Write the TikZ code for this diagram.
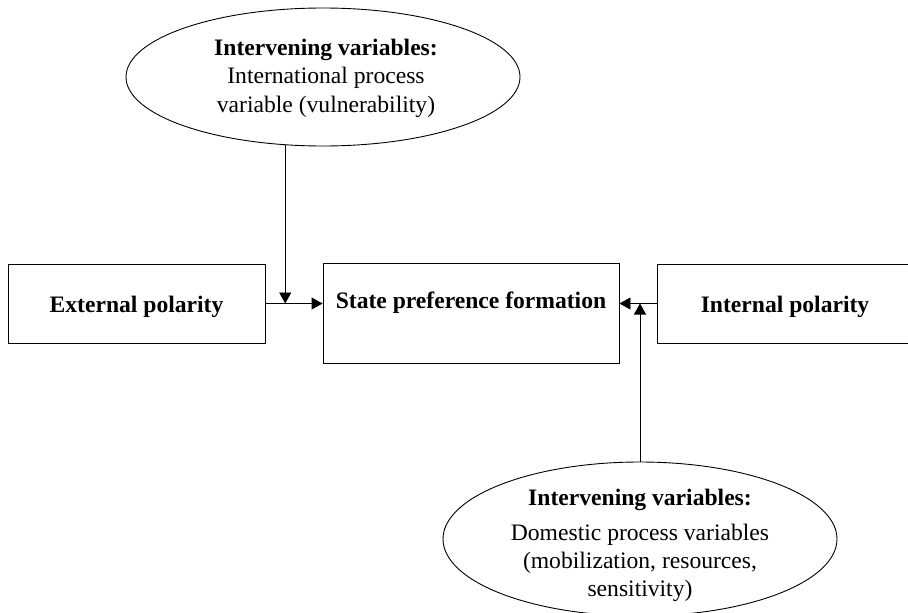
\documentclass[tikz,border=0pt]{standalone}
\usepackage{fontspec}
\setmainfont{Liberation Serif}
\usetikzlibrary{shapes.geometric,arrows.meta}
\tikzset{
  box/.style={draw, line width=0.9pt, rectangle, inner sep=0pt},
  oval/.style={draw, line width=0.9pt, ellipse, inner sep=0pt},
  txt/.style={anchor=base, inner sep=0pt, font=\fontsize{23.6}{28.5}\selectfont},
  link/.style={line width=0.9pt, -{Triangle[length=11pt,width=12pt]}}
}
\begin{document}
\begin{tikzpicture}[x=1pt,y=1pt]
\useasboundingbox (0,0) rectangle (908,-613);
\clip (0,0) rectangle (908,-613);
\fill[white] (0,0) rectangle (908,-613);
% boxes
\node[box, minimum width=257pt, minimum height=79pt] (ext) at (136.5,-303.5) {};
\node[box, minimum width=296pt, minimum height=100pt] (mid) at (471,-313) {};
\node[box, minimum width=256pt, minimum height=79pt] (int) at (785,-303.5) {};
\node[txt] (extT) at (136.5,-312) {\textbf{External polarity}};
\node[txt] (midT) at (471,-308) {\textbf{State preference formation}};
\node[txt] (intT) at (785,-312) {\textbf{Internal polarity}};
% ellipses
\node[oval, minimum width=394pt, minimum height=138pt] (iv1) at (323,-77) {};
\node[txt] (iv1a) at (326,-55) {\textbf{Intervening variables:}};
\node[txt] (iv1b) at (326,-83.5) {International process};
\node[txt] (iv1c) at (326,-112) {variable (vulnerability)};
\node[oval, minimum width=394pt, minimum height=154pt] (iv2) at (640,-539) {};
\node[txt] (iv2a) at (640,-505) {\textbf{Intervening variables:}};
\node[txt] (iv2b) at (640,-540) {Domestic process variables};
\node[txt] (iv2c) at (640,-568) {(mobilization, resources,};
\node[txt] (iv2d) at (640,-596) {sensitivity)};
% connectors
\draw[link] (ext.east) -- (mid.west |- ext.east);
\draw[link] (int.west) -- (mid.east |- int.west);
\draw[link] (iv1.241.4) -- (iv1.241.4 |- ext.east);
\draw[link] (iv2.north) -- (iv2.north |- int.west);
\end{tikzpicture}
\end{document}
